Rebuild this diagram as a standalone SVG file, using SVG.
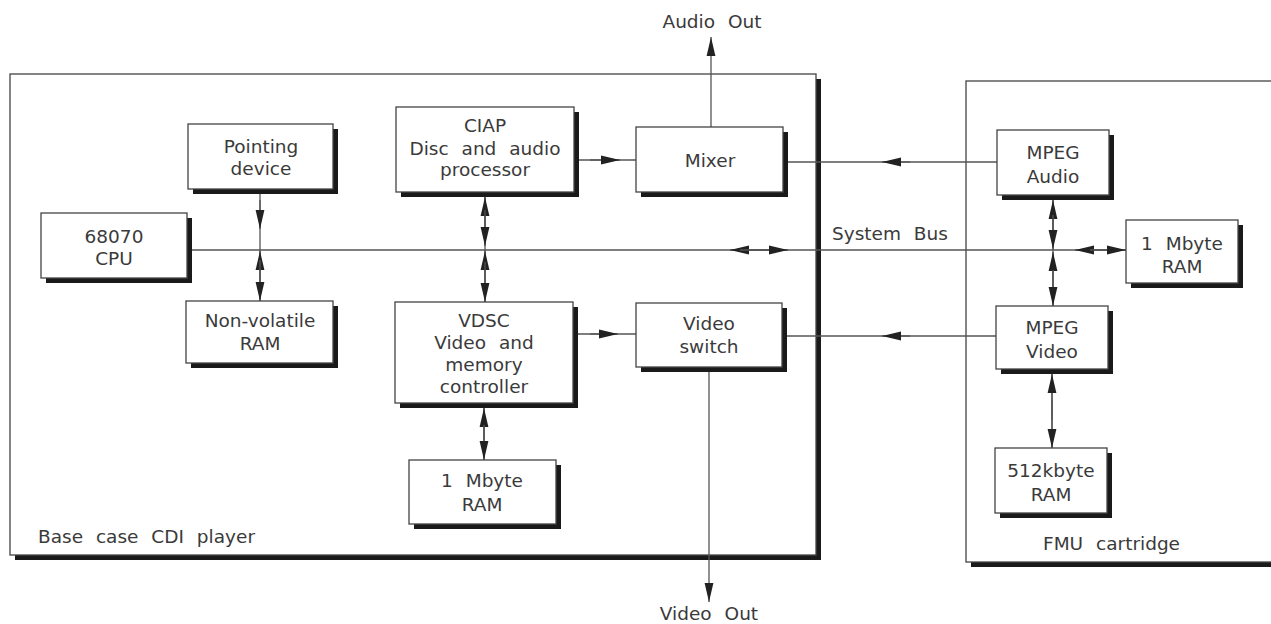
<svg xmlns="http://www.w3.org/2000/svg" width="1271" height="624" viewBox="0 0 1271 624">
<style>
.bg{fill:#fff}
.sh{fill:#1a1a1a}
.box{fill:#fff;stroke:#444;stroke-width:1.3}
.t{font-family:"DejaVu Sans","Liberation Sans",sans-serif;font-size:18.5px;fill:#3a3a3a;text-anchor:middle;word-spacing:7px}
.tl{font-family:"DejaVu Sans","Liberation Sans",sans-serif;font-size:18.5px;fill:#3a3a3a;word-spacing:7px}
.ln{fill:none;stroke:#555;stroke-width:1.3}
.ah{fill:none;stroke:#555;stroke-width:1.3;marker-end:url(#ah)}
</style>
<defs>
<marker id="ah" markerUnits="userSpaceOnUse" markerWidth="19" markerHeight="10" viewBox="0 0 19 10" refX="19" refY="5" orient="auto">
<path d="M0,0.6 L19,5 L0,9.4 z" fill="#222"/>
</marker>
</defs>
<rect class="bg" x="0" y="0" width="1271" height="624"/>

<g id="player">
<rect class="sh" x="15" y="79" width="806" height="481"/>
<rect class="box" x="10" y="74" width="806" height="481"/>
<text class="tl" x="38" y="543">Base case CDI player</text>
</g>
<g id="cartridge">
<rect class="sh" x="971" y="86" width="310" height="481"/>
<rect class="box" x="966" y="81" width="310" height="481"/>
<text class="tl" x="1043" y="550">FMU cartridge</text>
</g>

<g id="connectors">
<path class="ln" d="M187,250 L1126,250"/>
<path class="ah" d="M778,250 L730,250"/>
<path class="ah" d="M740,250 L788,250"/>
<path class="ah" d="M1110,250 L1075,250"/>
<path class="ah" d="M1090,250 L1126,250"/>
<path class="ln" d="M260,189 L260,301"/>
<path class="ah" d="M260,200 L260,229"/>
<path class="ah" d="M260,290 L260,251"/>
<path class="ah" d="M260,260 L260,301"/>
<path class="ln" d="M485,192 L485,302"/>
<path class="ah" d="M485,240 L485,197"/>
<path class="ah" d="M485,210 L485,246"/>
<path class="ah" d="M485,290 L485,251"/>
<path class="ah" d="M485,262 L485,302"/>
<path class="ln" d="M484,403 L484,460"/>
<path class="ah" d="M484,440 L484,408"/>
<path class="ah" d="M484,425 L484,460"/>
<path class="ln" d="M574,160 L636,160"/>
<path class="ah" d="M590,160 L620,160"/>
<path class="ln" d="M573,334 L636,334"/>
<path class="ah" d="M590,334 L618,334"/>
<path class="ah" d="M711,127 L711,37"/>
<path class="ah" d="M709,367 L709,602"/>
<path class="ln" d="M997,162 L783,162"/>
<path class="ah" d="M910,162 L882,162"/>
<path class="ln" d="M996,336 L782,336"/>
<path class="ah" d="M910,336 L882,336"/>
<path class="ln" d="M1053,195 L1053,306"/>
<path class="ah" d="M1053,240 L1053,200"/>
<path class="ah" d="M1053,215 L1053,249"/>
<path class="ah" d="M1053,290 L1053,252"/>
<path class="ah" d="M1053,270 L1053,306"/>
<path class="ln" d="M1052,369 L1052,448"/>
<path class="ah" d="M1052,420 L1052,374"/>
<path class="ah" d="M1052,400 L1052,448"/>
<text class="t" x="712" y="28">Audio Out</text>
<text class="t" x="709" y="620">Video Out</text>
<text class="tl" x="832" y="240">System Bus</text>
</g>

<g id="pointing">
<rect class="sh" x="193" y="129" width="145" height="65"/>
<rect class="box" x="188" y="124" width="145" height="65"/>
<text class="t" x="261" y="153">Pointing</text>
<text class="t" x="261" y="175">device</text>
</g>
<g id="cpu">
<rect class="sh" x="46" y="218" width="146" height="65"/>
<rect class="box" x="41" y="213" width="146" height="65"/>
<text class="t" x="114" y="243">68070</text>
<text class="t" x="114" y="265">CPU</text>
</g>
<g id="nvram">
<rect class="sh" x="191" y="306" width="147" height="62"/>
<rect class="box" x="186" y="301" width="147" height="62"/>
<text class="t" x="260" y="327">Non-volatile</text>
<text class="t" x="260" y="350">RAM</text>
</g>
<g id="ciap">
<rect class="sh" x="401" y="112" width="178" height="85"/>
<rect class="box" x="396" y="107" width="178" height="85"/>
<text class="t" x="485" y="132">CIAP</text>
<text class="t" x="485" y="155">Disc and audio</text>
<text class="t" x="485" y="176">processor</text>
</g>
<g id="mixer">
<rect class="sh" x="641" y="132" width="147" height="65"/>
<rect class="box" x="636" y="127" width="147" height="65"/>
<text class="t" x="710" y="167">Mixer</text>
</g>
<g id="vdsc">
<rect class="sh" x="400" y="307" width="178" height="101"/>
<rect class="box" x="395" y="302" width="178" height="101"/>
<text class="t" x="484" y="327">VDSC</text>
<text class="t" x="484" y="349">Video and</text>
<text class="t" x="484" y="371">memory</text>
<text class="t" x="484" y="393">controller</text>
</g>
<g id="videoswitch">
<rect class="sh" x="641" y="308" width="146" height="64"/>
<rect class="box" x="636" y="303" width="146" height="64"/>
<text class="t" x="709" y="330">Video</text>
<text class="t" x="709" y="353">switch</text>
</g>
<g id="ram1">
<rect class="sh" x="414" y="465" width="147" height="64"/>
<rect class="box" x="409" y="460" width="147" height="64"/>
<text class="t" x="482" y="487">1 Mbyte</text>
<text class="t" x="482" y="511">RAM</text>
</g>
<g id="mpegaudio">
<rect class="sh" x="1002" y="135" width="112" height="65"/>
<rect class="box" x="997" y="130" width="112" height="65"/>
<text class="t" x="1053" y="159">MPEG</text>
<text class="t" x="1053" y="183">Audio</text>
</g>
<g id="ram2">
<rect class="sh" x="1131" y="225" width="112" height="63"/>
<rect class="box" x="1126" y="220" width="112" height="63"/>
<text class="t" x="1182" y="250">1 Mbyte</text>
<text class="t" x="1182" y="273">RAM</text>
</g>
<g id="mpegvideo">
<rect class="sh" x="1001" y="311" width="112" height="63"/>
<rect class="box" x="996" y="306" width="112" height="63"/>
<text class="t" x="1052" y="334">MPEG</text>
<text class="t" x="1052" y="358">Video</text>
</g>
<g id="ram512">
<rect class="sh" x="1000" y="453" width="112" height="65"/>
<rect class="box" x="995" y="448" width="112" height="65"/>
<text class="t" x="1051" y="477">512kbyte</text>
<text class="t" x="1051" y="501">RAM</text>
</g>
</svg>
